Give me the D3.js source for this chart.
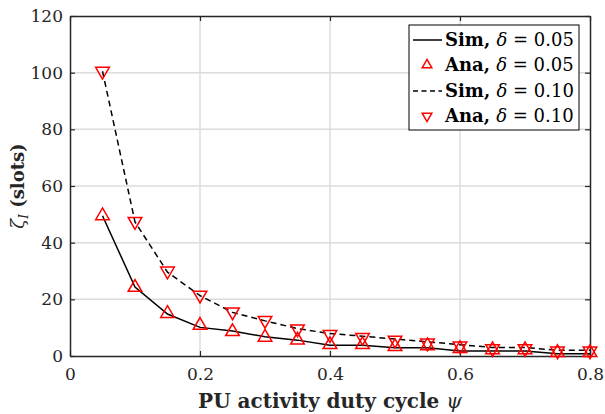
<!DOCTYPE html>
<html><head><meta charset="utf-8">
<script src="https://cdn.jsdelivr.net/npm/d3@7"></script>
<style>body{margin:0;background:#fff}svg{display:block}</style>
</head><body>
<svg id="c" width="605" height="414"></svg>
<script>
const xVals = [0.05,0.10,0.15,0.20,0.25,0.30,0.35,0.40,0.45,0.50,0.55,0.60,0.65,0.70,0.75,0.80];
const sim005 = [49.5,24.3,14.8,10.1,8.8,6.8,5.6,3.8,3.8,2.9,2.9,1.8,1.8,1.8,0.8,0.8];
const ana005 = [49.5,24.2,15.0,10.8,8.6,6.6,5.6,4.0,4.0,3.3,3.6,2.6,2.2,2.2,1.2,1.2];
const sim010 = [100.5,47.3,29.6,21.3,15.4,12.4,9.7,7.9,7.0,6.0,5.0,4.0,3.0,3.0,2.0,2.0];
const ana010 = [100.5,47.5,30.0,21.5,15.6,12.6,9.6,7.6,6.6,5.6,4.6,3.6,2.6,2.6,1.8,1.8];
const xTicks = [0,0.2,0.4,0.6,0.8];
const yTicks = [0,20,40,60,80,100,120];
const legendLabels = ["Sim,","Ana,","Sim,","Ana,"];
const legendDeltas = ["0.05","0.05","0.10","0.10"];

const svg = d3.select("#c");
const L=70, R=590, T=16, B=356;
const x = d3.scaleLinear().domain([0,0.8]).range([L,R]);
const y = d3.scaleLinear().domain([0,120]).range([B,T]);
const font = "'DejaVu Serif', serif";
const axCol = "#262626";
const fs = "17px";

// grid
svg.append("g").selectAll("line.gx").data(xTicks.slice(1,-1)).join("line")
  .attr("x1",d=>x(d)).attr("x2",d=>x(d)).attr("y1",T).attr("y2",B)
  .attr("stroke","#dcdcdc").attr("stroke-width",1.5);
svg.append("g").selectAll("line.gy").data(yTicks.slice(1,-1)).join("line")
  .attr("y1",d=>y(d)).attr("y2",d=>y(d)).attr("x1",L).attr("x2",R)
  .attr("stroke","#dcdcdc").attr("stroke-width",1.5);

// axes with inward ticks
function styleAxis(g){
  g.select(".domain").attr("stroke",axCol).attr("stroke-width",1.5);
  g.selectAll(".tick line").attr("stroke",axCol).attr("stroke-width",1.2);
  g.selectAll(".tick text").attr("fill",axCol).attr("font-family",font).attr("font-size",fs);
}
const xb = svg.append("g").attr("transform",`translate(0,${B})`)
  .call(d3.axisBottom(x).tickValues(xTicks).tickFormat(d=>d===0?"0":d3.format(".1f")(d)).tickSizeInner(-5).tickSizeOuter(0).tickPadding(12));
styleAxis(xb);
const xt = svg.append("g").attr("transform",`translate(0,${T})`)
  .call(d3.axisTop(x).tickValues(xTicks).tickFormat("").tickSizeInner(-5).tickSizeOuter(0));
styleAxis(xt);
const yl = svg.append("g").attr("transform",`translate(${L},0)`)
  .call(d3.axisLeft(y).tickValues(yTicks).tickSizeInner(-5).tickSizeOuter(0).tickPadding(7));
styleAxis(yl);
const yr = svg.append("g").attr("transform",`translate(${R},0)`)
  .call(d3.axisRight(y).tickValues(yTicks).tickFormat("").tickSizeInner(-5).tickSizeOuter(0));
styleAxis(yr);

// lines
const line = d3.line().x(d=>x(d[0])).y(d=>y(d[1]));
svg.append("path").datum(xVals.map((v,i)=>[v,sim005[i]])).attr("d",line)
  .attr("fill","none").attr("stroke","#000").attr("stroke-width",1.5);
svg.append("path").datum(xVals.map((v,i)=>[v,sim010[i]])).attr("d",line)
  .attr("fill","none").attr("stroke","#000").attr("stroke-width",1.5).attr("stroke-dasharray","6,4");

// markers
const tri = d3.symbol().type(d3.symbolTriangle).size(80);
svg.append("g").selectAll("path").data(xVals.map((v,i)=>[v,ana005[i]])).join("path")
  .attr("d",tri).attr("transform",d=>`translate(${x(d[0])},${y(d[1])})`)
  .attr("fill","none").attr("stroke","#ff0000").attr("stroke-width",1.5);
svg.append("g").selectAll("path").data(xVals.map((v,i)=>[v,ana010[i]])).join("path")
  .attr("d",tri).attr("transform",d=>`translate(${x(d[0])},${y(d[1])}) rotate(180)`)
  .attr("fill","none").attr("stroke","#ff0000").attr("stroke-width",1.5);

// axis labels
const xl = svg.append("text").attr("x",(L+R)/2).attr("y",408).attr("text-anchor","middle")
  .attr("font-family",font).attr("font-size","20px").attr("font-weight","bold").attr("fill",axCol);
xl.append("tspan").text("PU activity duty cycle ");
xl.append("tspan").attr("font-style","italic").attr("font-weight","normal").text("ψ");

const ylab = svg.append("text").attr("transform",`translate(24,${(T+B)/2}) rotate(-90)`).attr("text-anchor","middle")
  .attr("font-family",font).attr("font-size","18px").attr("fill",axCol);
ylab.append("tspan").attr("font-style","italic").text("ζ");
ylab.append("tspan").attr("font-style","italic").attr("font-size","12px").attr("dy",4).text("I");
ylab.append("tspan").attr("dy",-4).attr("font-weight","bold").text(" (slots)");

// legend
const lg = svg.append("g");
lg.append("rect").attr("x",409).attr("y",25).attr("width",170).attr("height",105)
  .attr("fill","#fff").attr("stroke","#000").attr("stroke-width",1);
const rows = [40,65,91,116];
rows.forEach((ry,i)=>{
  if(i===0||i===2){
    lg.append("line").attr("x1",413).attr("x2",442).attr("y1",ry).attr("y2",ry)
      .attr("stroke","#000").attr("stroke-width",1.5).attr("stroke-dasharray",i===2?"5,3.5":null);
  } else {
    lg.append("path").attr("d",d3.symbol().type(d3.symbolTriangle).size(40))
      .attr("transform",`translate(427,${ry})${i===3?" rotate(180)":""}`)
      .attr("fill","none").attr("stroke","#ff0000").attr("stroke-width",1.5);
  }
  const t = lg.append("text").attr("x",445).attr("y",ry+6).attr("font-family",font).attr("font-size","18px").attr("fill","#000");
  t.append("tspan").attr("font-weight","bold").text(legendLabels[i]+" ");
  t.append("tspan").attr("font-style","italic").text("δ");
  t.append("tspan").text(" = "+legendDeltas[i]);
});
</script>
</body></html>
